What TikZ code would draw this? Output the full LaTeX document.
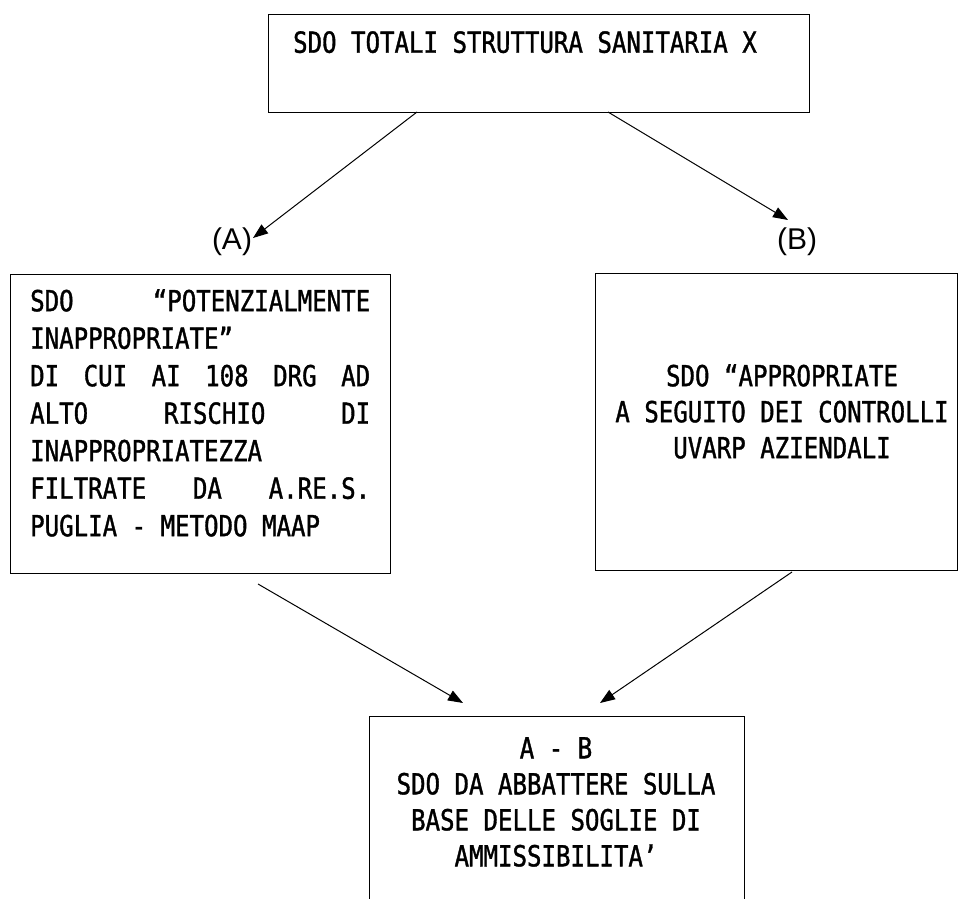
\documentclass[tikz,border=0pt]{standalone}
\usepackage{fontspec}
\usetikzlibrary{arrows.meta}
\newfontfamily\gfont[FakeStretch=0.83,FakeBold=1.2]{DejaVu Sans Mono}
\newfontfamily\lfont{Liberation Sans}
\newcommand{\jl}[1]{\hbox to 340pt{#1}}
\tikzset{
  box/.style={draw=black, line width=1.1pt, inner sep=0pt, anchor=north west},
  gtext/.style={inner sep=0pt, font=\gfont\fontsize{29}{36}\selectfont},
  lbl/.style={inner sep=0pt, font=\lfont\fontsize{30}{36}\selectfont},
  conn/.style={draw=black, line width=1pt, -{Triangle[length=15pt,width=11pt]}}
}
\begin{document}
\begin{tikzpicture}[x=1pt,y=-1pt]
\clip (0,0) rectangle (962,899);
\fill[white] (0,0) rectangle (962,899);
% boxes
\node[box, minimum width=541pt, minimum height=98pt] (top) at (268,14) {};
\node[box, minimum width=380pt, minimum height=299pt] (left) at (10,274) {};
\node[box, minimum width=362pt, minimum height=297pt] (right) at (595,273) {};
\node[box, minimum width=375pt, minimum height=220pt] (bottom) at (369,716) {};
% texts
\node[gtext, anchor=north] (toptext) at (525,31) {SDO TOTALI STRUTTURA SANITARIA X};
\node[gtext, anchor=north west, align=left, font=\gfont\fontsize{29}{37.5}\selectfont] (lefttext) at (30,289) {%
\jl{SDO\hfill “POTENZIALMENTE}\\
\jl{INAPPROPRIATE”\hfill}\\
\jl{DI\hfill CUI\hfill AI\hfill 108\hfill DRG\hfill AD}\\
\jl{ALTO\hfill RISCHIO\hfill DI}\\
\jl{INAPPROPRIATEZZA\hfill}\\
\jl{FILTRATE\hfill DA\hfill A.RE.S.}\\
\jl{PUGLIA - METODO MAAP\hfill}};
\node[gtext, anchor=north, align=center] (righttext) at (782,364) {SDO “APPROPRIATE\\A SEGUITO DEI CONTROLLI\\UVARP AZIENDALI};
\node[gtext, anchor=north, align=center] (bottomtext) at (556,737) {A - B\\SDO DA ABBATTERE SULLA\\BASE DELLE SOGLIE DI\\AMMISSIBILITA’};
\node[lbl] (labA) at (232,242) {(A)};
\node[lbl] (labB) at (797,242) {(B)};
% connector end points
\coordinate (t1) at (417,112);
\coordinate (ta) at (253,238);
\coordinate (t2) at (608,112);
\coordinate (tb) at (788,220);
\coordinate (b1) at (258,584);
\coordinate (be1) at (463,703);
\coordinate (b2) at (792,572);
\coordinate (be2) at (600,703);
\draw[conn] (t1) -- (ta);
\draw[conn] (t2) -- (tb);
\draw[conn] (b1) -- (be1);
\draw[conn] (b2) -- (be2);
\end{tikzpicture}
\end{document}
